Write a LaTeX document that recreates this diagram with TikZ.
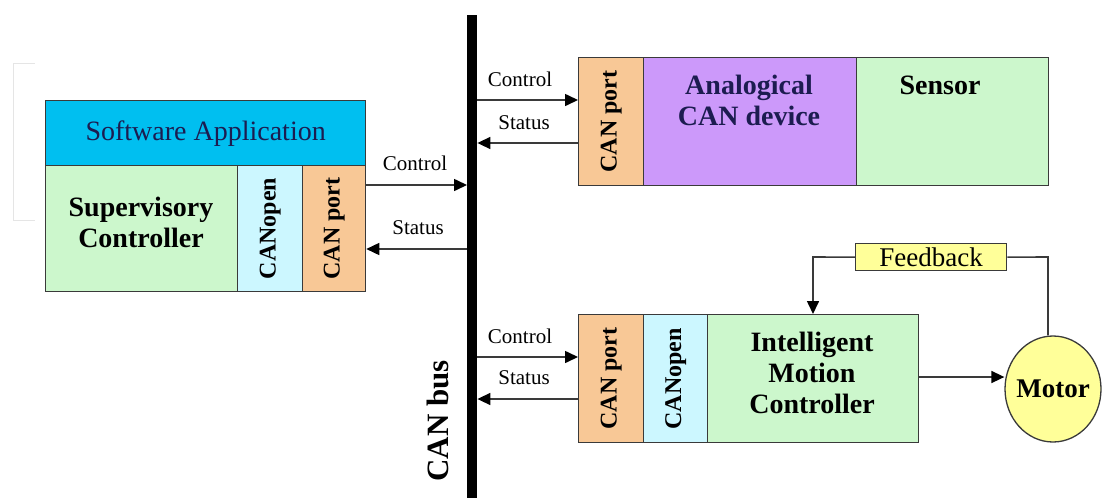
\documentclass[tikz,border=0pt]{standalone}
\usepackage{fontspec}
\setmainfont{Liberation Serif}
\usetikzlibrary{arrows.meta,shapes.geometric}

\definecolor{swcyan}{HTML}{00BFF0}
\definecolor{ltgreen}{HTML}{CCF7CC}
\definecolor{ltcyan}{HTML}{CCF7FF}
\definecolor{peach}{HTML}{F8C896}
\definecolor{lilac}{HTML}{CC99FA}
\definecolor{ltyellow}{HTML}{FFFF99}
\definecolor{navy}{HTML}{1C1C50}
\definecolor{edge}{HTML}{3A3A3A}

\tikzset{
  blk/.style={draw=edge, line width=1.3pt, inner sep=0pt, anchor=north west},
  boldtxt/.style={font=\fontsize{28}{31}\selectfont\bfseries, align=center, inner sep=0pt},
  vtxt/.style={rotate=90, font=\fontsize{24}{26}\selectfont\bfseries, inner sep=0pt},
  smalltxt/.style={font=\fontsize{21}{23}\selectfont, inner sep=0pt},
  link/.style={draw=edge, line width=1.6pt},
  arr/.style={link, -{Triangle[length=13pt,width=12pt,fill=black,color=black]}},
}

\begin{document}
\begin{tikzpicture}[x=1pt,y=-1pt]
\useasboundingbox (0,0) rectangle (1105,498);

% faint bracket at the far left
\draw[black!10, line width=1pt] (35,63) -- (13,63) -- (13,220) -- (35,220);

% CAN bus
\node[fill=black, inner sep=0pt, minimum width=10pt, minimum height=483pt, anchor=north west] (bus) at (467,15) {};
\node[rotate=90, font=\fontsize{31}{33}\selectfont\bfseries, inner sep=0pt] (buslbl) at (438,421) {CAN bus};

% supervisory node
\node[blk, fill=swcyan, minimum width=320pt, minimum height=65pt] (sw) at (45,100) {};
\node[font=\fontsize{28}{31}\selectfont, text=navy, inner sep=0pt] (swlbl) at (sw) {Software Application};
\node[blk, fill=ltgreen, minimum width=192pt, minimum height=126pt] (sup) at (45,165) {};
\node[boldtxt] (suplbl) at (141,222) {Supervisory\\Controller};
\node[blk, fill=ltcyan, minimum width=65pt, minimum height=126pt] (lopen) at (237,165) {};
\node[vtxt] (lopenlbl) at (lopen) {CANopen};
\node[blk, fill=peach, minimum width=63pt, minimum height=126pt] (lport) at (302,165) {};
\node[vtxt] (lportlbl) at (lport) {CAN port};

% analogical device
\node[blk, fill=peach, minimum width=65pt, minimum height=128pt] (tport) at (578,57) {};
\node[vtxt] (tportlbl) at (tport) {CAN port};
\node[blk, fill=lilac, minimum width=213pt, minimum height=128pt] (ana) at (643,57) {};
\node[boldtxt, text=navy] (analbl) at (749,100) {Analogical\\CAN device};
\node[blk, fill=ltgreen, minimum width=192pt, minimum height=128pt] (sens) at (856,57) {};
\node[boldtxt] (senslbl) at (940,85) {Sensor};

% motion controller
\node[blk, fill=peach, minimum width=65pt, minimum height=128pt] (bport) at (578,314) {};
\node[vtxt] (bportlbl) at (bport) {CAN port};
\node[blk, fill=ltcyan, minimum width=64pt, minimum height=128pt] (bopen) at (643,314) {};
\node[vtxt] (bopenlbl) at (bopen) {CANopen};
\node[blk, fill=ltgreen, minimum width=211pt, minimum height=128pt] (imc) at (707,314) {};
\node[boldtxt] (imclbl) at (812,373) {Intelligent\\Motion\\Controller};

\node[blk, fill=ltyellow, minimum width=151pt, minimum height=27pt] (fb) at (855,243) {};
\node[font=\fontsize{27}{30}\selectfont, inner sep=0pt] (fblbl) at (fb) {Feedback};
\node[draw=edge, line width=1.3pt, fill=ltyellow, ellipse, minimum width=96pt, minimum height=106pt, inner sep=0pt] (motor) at (1053,389) {};
\node[font=\fontsize{27}{30}\selectfont\bfseries, inner sep=0pt] (motorlbl) at (motor) {Motor};

% bus traffic, supervisory side
\draw[arr] (lport.east |- 0,185) -- (bus.west |- 0,185);
\draw[arr] (bus.west |- 0,249) -- (lport.east |- 0,249);
\node[smalltxt] (c1) at (415,163) {Control};
\node[smalltxt] (s1) at (418,228) {Status};

% bus traffic, analogical device
\draw[arr] (bus.east |- 0,100) -- (tport.west |- 0,100);
\draw[arr] (tport.west |- 0,143) -- (bus.east |- 0,143);
\node[smalltxt] (c2) at (520,79) {Control};
\node[smalltxt] (s2) at (524,123) {Status};

% bus traffic, motion controller
\draw[arr] (bus.east |- 0,357) -- (bport.west |- 0,357);
\draw[arr] (bport.west |- 0,399) -- (bus.east |- 0,399);
\node[smalltxt] (c3) at (520,336) {Control};
\node[smalltxt] (s3) at (524,378) {Status};

% drive and feedback loop
\draw[arr] (imc.east |- 0,377) -- (motor.west |- 0,377);
\draw[link] (motor.north -| 1048,0) -- (1048,257) -- (fb.east);
\draw[arr] (fb.west) -- (813,257) -- (imc.north -| 813,0);
\end{tikzpicture}
\end{document}
